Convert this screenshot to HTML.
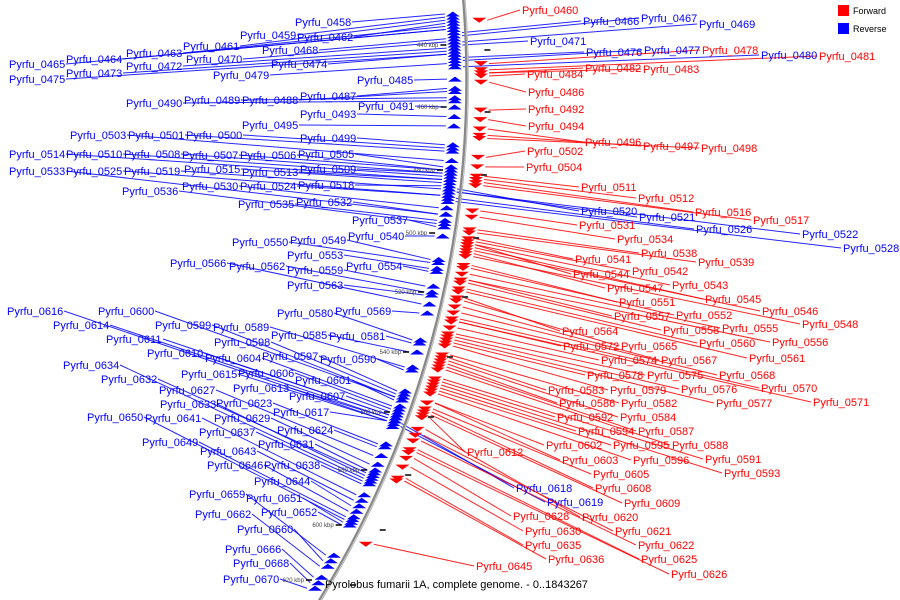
<!DOCTYPE html>
<html><head><meta charset="utf-8"><style>
html,body{margin:0;padding:0;background:#fff;}
svg{display:block;font-family:"Liberation Sans",sans-serif;}
</style></head><body>
<svg id="chart" width="900" height="600" viewBox="0 0 900 600" xmlns="http://www.w3.org/2000/svg">
<g id="leaders"></g>
<g id="axis"></g>
<g id="features"></g>
<g id="labels"></g>
<g>
<rect x="838" y="5" width="11" height="11" fill="#f00"/>
<text x="853" y="14" font-size="9" fill="#000">Forward</text>
<rect x="838" y="23" width="11" height="11" fill="#00f"/>
<text x="853" y="32" font-size="9" fill="#000">Reverse</text>
</g>
<text x="325" y="588" font-size="11" fill="#000">Pyrolobus fumarii 1A, complete genome. - 0..1843267</text>
</svg>
<script>
// gene data
const geneIds=["0458","0459","0462","0461","0468","0463","0470","0474","0464","0472","0465","0473","0475","0479","0485","0487","0490","0489","0488","0491","0493","0495","0503","0501","0500","0499","0514","0510","0508","0507","0506","0505","0515","0513","0509","0533","0525","0519","0530","0524","0518","0536","0535","0532","0537","0540","0550","0549","0553","0566","0562","0559","0554","0563","0580","0569","0616","0600","0614","0599","0589","0611","0598","0585","0581","0610","0604","0597","0590","0634","0632","0615","0606","0601","0627","0613","0607","0633","0623","0629","0617","0650","0641","0637","0624","0649","0631","0643","0646","0638","0644","0659","0651","0652","0662","0660","0666","0668","0670",
"0460","0466","0467","0469","0471","0476","0477","0478","0480","0481","0484","0482","0483","0486","0492","0494","0496","0497","0498","0502","0504","0511","0512","0520","0521","0516","0517","0531","0526","0522","0528","0534","0538","0541","0539","0542","0544","0543","0547","0545","0551","0546","0557","0552","0548","0558","0555","0564","0556","0560","0572","0565","0561","0574","0567","0568","0578","0575","0570","0583","0579","0576","0571","0586","0582","0577","0592","0584","0594","0587","0602","0595","0588","0612","0603","0596","0591","0605","0593","0608","0609","0618","0619","0620","0628","0621","0630","0622","0635","0636","0625","0626","0645"];
// genes on the forward strand (all others are reverse)
const forwardIds=["0460","0478","0481","0484","0482","0483","0486","0492","0494","0496","0497","0498","0502","0504","0511","0512","0516","0517","0531","0534","0538","0541","0539","0542","0544","0543","0547","0545","0551","0546","0557","0552","0548","0558","0555","0564","0556","0560","0572","0565","0561","0574","0567","0568","0578","0575","0570","0583","0579","0576","0571","0586","0582","0577","0592","0584","0594","0587","0602","0595","0588","0612","0603","0596","0591","0605","0593","0608","0609","0620","0628","0621","0630","0622","0635","0636","0625","0626","0645"];
const kbp=[430,431,433,432,438,434,439,443,435,441,435,442,443,446,451,454,458,457,455,460,463,466,477,474,473,472,483,482,481,480,480,479,484,483,481,494,488,486,492,488,485,497,496,494,498,501,510,509,512,524,520,518,513,521,
536,527,563,555,562,555,545,561,554,540,537,561,558,553,546,583,581,563,559,556,575,562,560,582,571,578,563,598,589,584,572,597,580,591,595,585,593,611,599,600,615,613,619,621,623,
432,436,437,439,440,444,445,446,447,448,450,449,449,452,461,464,467,469,470,476,479,482,483,486,487,484,485,493,489,487,490,495,499,502,500,503,504,504,507,505,511,506,516,512,508,517,514,
522,516,519,530,523,520,532,525,527,537,534,529,542,538,535,530,544,541,536,550,543,552,545,557,553,546,562,557,554,549,559,551,560,561,564,565,566,576,568,579,570,583,584,573,574,607];
const labelX=[295,240,297,183,262,126,186,271,66,126,9,66,9,213,357,300,126,184,242,358,300,242,70,128,186,300,9,66,124,182,240,298,184,242,300,9,66,124,182,240,298,122,238,296,352,348,232,290,287,170,229,287,346,287,
277,335,7,98,53,155,213,106,214,271,329,147,205,262,320,63,101,181,238,295,159,233,289,160,216,214,273,87,145,199,277,142,258,200,207,264,254,189,246,261,195,237,225,233,223,
522,583,641,699,530,586,644,702,761,819,527,585,643,528,528,528,585,643,701,527,526,581,638,581,639,695,753,579,696,802,843,617,641,575,698,632,573,672,607,705,619,762,614,676,802,663,722,562,772,699,563,621,749,601,661,719,587,647,761,548,610,681,813,559,621,716,557,620,578,638,546,613,672,467,562,633,705,593,724,595,624,516,547,582,513,615,525,638,525,548,641,671,476];
const labelY=[22,35,37,46,50,53,59,64,59,66,64,73,79,75,80,96,103,100,100,106,114,125,135,135,135,138,154,154,154,155,155,154,169,172,169,171,171,171,186,186,185,191,204,202,220,236,242,240,255,263,266,270,266,285,
313,311,311,311,325,325,327,339,342,335,336,353,358,356,359,365,379,374,373,380,390,388,396,404,403,418,412,417,418,432,430,442,444,451,465,465,481,494,498,512,514,529,549,563,579,
10,21,18,24,41,52,50,50,55,56,74,68,69,92,109,126,142,146,148,151,167,187,198,211,217,212,220,225,229,234,248,239,253,259,262,271,274,285,288,299,302,311,316,315,324,330,328,331,342,343,346,346,358,360,360,375,375,375,388,390,390,389,402,403,403,403,417,417,431,431,445,445,445,452,460,460,459,474,473,488,503,488,502,517,516,531,531,545,545,559,559,574,566];
const tickKbp=[440,460,480,500,520,540,560,580,600,620];

// axis layout functions
const tickY=[45,107,170,233,292,352,412,470,525,580];
function yOf(k){
  if(k<=tickKbp[0]) return tickY[0]-(tickKbp[0]-k)*3.1;
  for(let i=1;i<tickKbp.length;i++){ if(k<=tickKbp[i]){const t=(k-tickKbp[i-1])/(tickKbp[i]-tickKbp[i-1]);return tickY[i-1]+t*(tickY[i]-tickY[i-1]);} }
  const n=tickKbp.length-1; return tickY[n]+(k-tickKbp[n])*2.75;
}
const R=993, CY=80, PEAK=467;
function xOf(y){const d=y-CY;return PEAK-(R-Math.sqrt(R*R-d*d));}
const NS="http://www.w3.org/2000/svg";
function mk(tag,attrs,parent){const e=document.createElementNS(NS,tag);for(const k in attrs)e.setAttribute(k,attrs[k]);parent.appendChild(e);return e;}

const gAxis=document.getElementById('axis'),gF=document.getElementById('features'),gL=document.getElementById('labels'),gLd=document.getElementById('leaders');
let d="";for(let y=-5;y<=605;y+=5){d+=(y===-5?"M":"L")+xOf(y).toFixed(1)+","+y;}
const ax1=mk('path',{d:d,fill:"none",stroke:"#888","stroke-width":3.5},gAxis);


const ax2=mk('path',{d:d,fill:"none",stroke:"#ccc","stroke-width":1,transform:"translate(1,0)"},gAxis);


tickKbp.forEach(k=>{
  const y=yOf(k),x=xOf(y);
  const t=mk('line',{x1:x-26,y1:y,x2:x-20,y2:y,stroke:"#000","stroke-width":1.5},gAxis);
  
  
  const t2=mk('line',{x1:x+18,y1:y+5,x2:x+24,y2:y+5,stroke:"#000","stroke-width":1.5},gAxis);
  
  
  const tl=mk('text',{x:x-28,y:y+2,"font-size":6,fill:"#444","text-anchor":"end"},gAxis);
  
  
  tl.textContent=k+" kbp";
});
geneIds.forEach((id,i)=>{
  const fwd=forwardIds.indexOf(id)>=0;
  const fy=yOf(kbp[i]),axx=xOf(fy);
  const lx=labelX[i],ly=labelY[i];
  const onLeft=(lx+30)<xOf(ly);
  const col=fwd?"#f00":"#00f";
  const fx=fwd?axx+14:axx-12;
  let x1,x2;
  if(onLeft){x1=lx+57;x2=fx-8;}else{x1=lx-2;x2=fx+8;}
  const ln=mk('line',{x1:x1,y1:ly,x2:x2,y2:fy,stroke:col,"stroke-width":1,opacity:0.85},gLd);
  
  
  const pts=fwd?[[fx-7,fy-2.5],[fx+7,fy-2.5],[fx,fy+2.5]]:[[fx-7,fy+2.5],[fx+7,fy+2.5],[fx,fy-2.5]];
  const p=mk('polygon',{points:pts.map(a=>a.join(",")).join(" "),fill:col},gF);
  
  
  const t=mk('text',{x:lx,y:ly+4,"font-size":11,fill:col},gL);
  
  
  t.textContent="Pyrfu_"+id;
});
</script>
</body></html>
